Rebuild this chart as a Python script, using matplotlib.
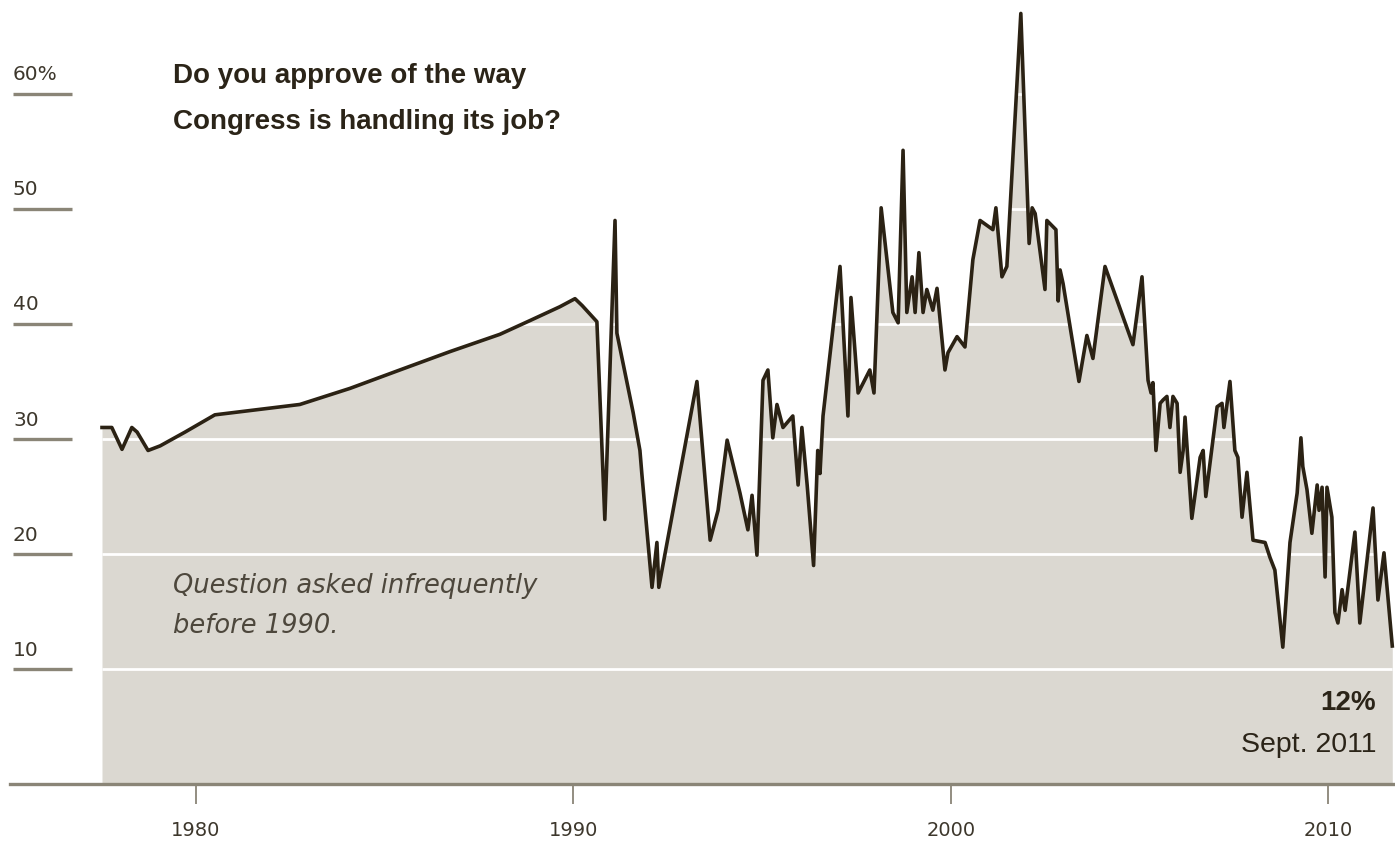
import matplotlib
matplotlib.use("Agg")
import matplotlib.pyplot as plt

plt.rcParams['font.family'] = ['Liberation Sans', 'DejaVu Sans']

# Sondage: approbation du Congrès (%)
years = [1977.51, 1977.77, 1978.04, 1978.30, 1978.44, 1978.73, 1979.05, 1979.71,
         1980.50, 1982.75, 1984.08, 1985.40, 1986.73, 1988.05, 1988.85, 1989.64,
         1990.04, 1990.23, 1990.62, 1990.83, 1991.10, 1991.15, 1991.58, 1991.76,
         1991.81, 1992.08, 1992.21, 1992.26, 1993.27, 1993.62, 1993.83, 1994.07,
         1994.41, 1994.62, 1994.73, 1994.86, 1995.02, 1995.15, 1995.28, 1995.39,
         1995.55, 1995.81, 1995.95, 1996.05, 1996.19, 1996.36, 1996.47, 1996.53,
         1996.61, 1997.06, 1997.27, 1997.35, 1997.54, 1997.85, 1997.96, 1998.15,
         1998.46, 1998.60, 1998.73, 1998.83, 1998.97, 1999.05, 1999.15, 1999.26,
         1999.36, 1999.52, 1999.63, 1999.84, 1999.92, 2000.16, 2000.37, 2000.58,
         2000.77, 2001.11, 2001.19, 2001.35, 2001.48, 2001.85, 2002.07, 2002.15,
         2002.23, 2002.49, 2002.54, 2002.78, 2002.84, 2002.89, 2002.97, 2003.39,
         2003.60, 2003.76, 2004.08, 2004.82, 2005.06, 2005.22, 2005.30, 2005.35,
         2005.43, 2005.54, 2005.62, 2005.72, 2005.80, 2005.88, 2005.99, 2006.07,
         2006.15, 2006.20, 2006.38, 2006.60, 2006.68, 2006.75, 2007.05, 2007.18,
         2007.23, 2007.39, 2007.52, 2007.60, 2007.71, 2007.84, 2008.00, 2008.32,
         2008.45, 2008.58, 2008.79, 2008.98, 2009.17, 2009.27, 2009.32, 2009.43,
         2009.56, 2009.70, 2009.75, 2009.83, 2009.91, 2009.96, 2010.09, 2010.17,
         2010.25, 2010.36, 2010.44, 2010.70, 2010.83, 2011.18, 2011.31, 2011.47,
         2011.69]
approval = [31.0, 31.0, 29.1, 31.0, 30.6, 29.0, 29.4, 30.6,
            32.1, 33.0, 34.4, 36.0, 37.6, 39.1, 40.3, 41.5,
            42.2, 41.6, 40.2, 23.0, 49.0, 39.2, 32.3, 29.0,
            27.0, 17.1, 21.0, 17.1, 35.0, 21.2, 23.8, 29.9,
            25.3, 22.1, 25.1, 19.9, 35.1, 36.0, 30.1, 33.0,
            31.0, 32.0, 26.0, 31.0, 26.0, 19.0, 29.0, 27.0,
            32.0, 45.0, 32.0, 42.3, 34.0, 36.0, 34.0, 50.1,
            41.0, 40.1, 55.1, 41.0, 44.1, 41.0, 46.2, 41.0,
            43.0, 41.2, 43.1, 36.0, 37.5, 38.9, 38.0, 45.6,
            49.0, 48.2, 50.1, 44.1, 45.0, 67.0, 47.0, 50.1,
            49.6, 43.0, 49.0, 48.2, 42.0, 44.7, 43.5, 35.0,
            39.0, 37.0, 45.0, 38.2, 44.1, 35.1, 34.0, 34.9,
            29.0, 33.1, 33.4, 33.7, 31.0, 33.7, 33.1, 27.1,
            29.0, 31.9, 23.1, 28.4, 29.0, 25.0, 32.8, 33.1,
            31.0, 35.0, 29.0, 28.4, 23.2, 27.1, 21.2, 21.0,
            19.7, 18.6, 11.9, 21.0, 25.3, 30.1, 27.6, 25.6,
            21.8, 26.0, 23.8, 25.8, 18.0, 25.8, 23.2, 14.9,
            14.0, 16.9, 15.1, 21.9, 14.0, 24.0, 16.0, 20.1,
            12.0]

yticks = [10, 20, 30, 40, 50, 60]
ytick_labels = ["10", "20", "30", "40", "50", "60%"]
xticks = [1980, 1990, 2000, 2010]

titre = ["Do you approve of the way", "Congress is handling its job?"]
note = ["Question asked infrequently", "before 1990."]

FILL = "#dbd8d1"
LINE = "#2b2214"
GRIS = "#8a8577"
TEXTE = "#2b2418"


def main():
    fig = plt.figure(figsize=(13.95, 8.43), dpi=100)
    ax = fig.add_axes([0, 0, 1, 1])
    ax.set_xlim(1974.808, 2011.762)
    ax.set_ylim(-5.13, 68.17)
    ax.axis('off')

    # Zone grise + grille blanche + courbe
    ax.fill_between(years, approval, 0, color=FILL, lw=0, zorder=1)
    ax.hlines(yticks, years[0], years[-1], color="white", lw=2, zorder=2)
    ax.plot(years, approval, color=LINE, lw=2.6, zorder=3)

    # Axe horizontal et graduations
    ax.axhline(0, xmin=0.0072, xmax=1, color=GRIS, lw=2.4, zorder=4)
    ax.vlines(xticks, -1.75, 0, color=GRIS, lw=1.3, zorder=4)
    for yr in xticks:
        ax.text(yr, -4.0, str(yr), ha="center", va="center", fontsize=14,
                color="#3d372c", family="DejaVu Sans")

    # Graduations verticales (petits traits à gauche)
    tr = ax.get_yaxis_transform()
    ax.hlines(yticks, 0.0093, 0.0516, color=GRIS, lw=2.4, transform=tr)
    for v, lab in zip(yticks, ytick_labels):
        ax.text(0.0093, v + 1.65, lab, ha="left", va="center", fontsize=14.5,
                color="#3d372c", transform=tr, family="DejaVu Sans")

    # Textes
    ax.text(1979.39, 61.6, titre[0], ha="left", va="center", fontsize=20,
            fontweight="bold", color=TEXTE)
    ax.text(1979.39, 57.6, titre[1], ha="left", va="center", fontsize=20,
            fontweight="bold", color=TEXTE)
    ax.text(1979.39, 17.2, note[0], ha="left", va="center", fontsize=18.5,
            style="italic", color="#4d473c", family="DejaVu Sans")
    ax.text(1979.39, 13.7, note[1], ha="left", va="center", fontsize=18.5,
            style="italic", color="#4d473c", family="DejaVu Sans")
    ax.text(2011.26, 7.0, "12%", ha="right", va="center", fontsize=20,
            fontweight="bold", color=TEXTE)
    ax.text(2011.26, 3.4, "Sept. 2011", ha="right", va="center", fontsize=20.5,
            color=TEXTE)

    plt.savefig("out.png", dpi=100)


if __name__ == "__main__":
    main()
